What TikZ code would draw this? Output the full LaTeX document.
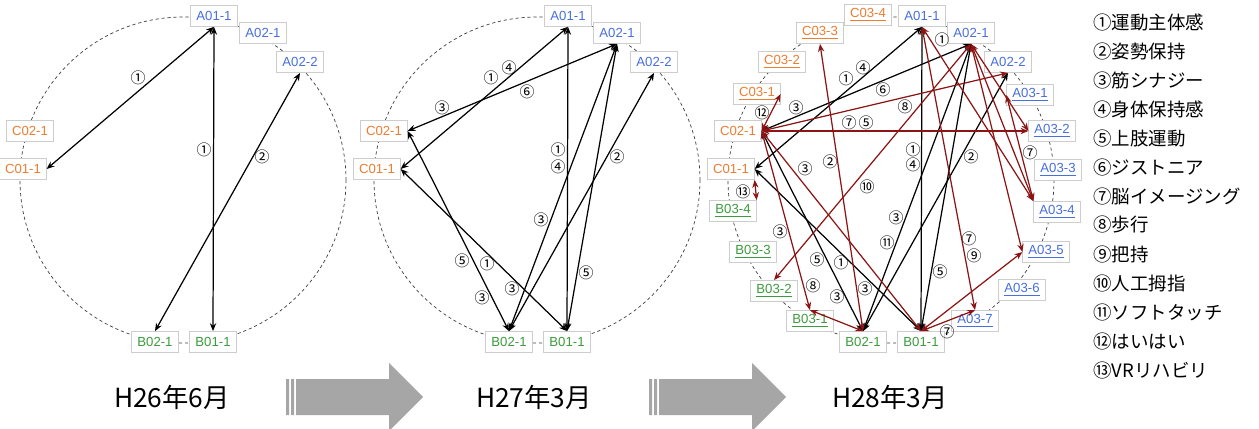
\documentclass[tikz,border=0pt]{standalone}
\usepackage{fontspec}
\setmainfont{Liberation Sans}
\newfontfamily\jpfont{Noto Sans CJK JP}
\usetikzlibrary{arrows.meta}

\definecolor{ablue}{RGB}{72,112,220}
\definecolor{corange}{RGB}{237,125,49}
\definecolor{bgreen}{RGB}{60,155,60}
\definecolor{linkred}{RGB}{140,20,20}
\definecolor{boxgray}{RGB}{205,205,205}
\definecolor{arrowgray}{RGB}{166,166,166}

\tikzset{
  site/.style={draw=boxgray, fill=white, line width=0.4pt, minimum width=26.5pt,
    minimum height=12pt, inner sep=1pt, font=\fontsize{7.5}{8}\selectfont},
  asite/.style={site, text=ablue},
  bsite/.style={site, text=bgreen},
  csite/.style={site, text=corange},
  link/.style={<->, line width=0.7pt},
  newlink/.style={link, draw=linkred},
  numtag/.style={inner sep=0pt, font=\jpfont\fontsize{8.5}{8.5}\selectfont},
  ring/.style={black!75, line width=0.4pt, dash pattern=on 1.8pt off 1.6pt},
  title/.style={font=\jpfont\fontsize{15}{15}\selectfont},
  legend/.style={anchor=west, inner sep=0pt, font=\jpfont\fontsize{10.5}{11}\selectfont},
}

\begin{document}
\begin{tikzpicture}[x=0.02cm,y=-0.02cm,>={Stealth[length=4.5pt,width=3.6pt]}]
\useasboundingbox (0,0) rectangle (1259,429);

%% H26: first stage
\begin{scope}[name prefix=p1-]
\draw[ring] (183,180) circle [radius=163];
\node[asite] (A01) at (214,16) {A01-1};
\node[asite] (A02) at (263,33) {A02-1};
\node[asite] (A022) at (300,62) {A02-2};
\node[csite] (C02) at (30,131) {C02-1};
\node[csite] (C01) at (23,169) {C01-1};
\node[bsite] (B02) at (155,342) {B02-1};
\node[bsite] (B01) at (213,342) {B01-1};

\draw[link] (A01.south) -- (C01.east);
\draw[link] (A01.south) -- (B01.north);
\draw[link] (A022.south) -- (B02.north);

\node[numtag] (n1) at (138,78) {①};
\node[numtag] (n2) at (204,150) {①};
\node[numtag] (n3) at (262,157) {②};
\end{scope}

%% H27: second stage
\begin{scope}[shift={(354,0)}, name prefix=p2-]
\draw[ring] (183,180) circle [radius=163];
\node[asite] (A01) at (214,16) {A01-1};
\node[asite] (A02) at (263,33) {A02-1};
\node[asite] (A022) at (300,62) {A02-2};
\node[csite] (C02) at (30,131) {C02-1};
\node[csite] (C01) at (23,169) {C01-1};
\node[bsite] (B02) at (155,342) {B02-1};
\node[bsite] (B01) at (213,342) {B01-1};

\draw[link] (A01.south) -- (C01.east);
\draw[link] (A02.south) -- (C02.east);
\draw[link] (A01.south) -- (B01.north);
\draw[link] (A022.south) -- (B02.north);
\draw[link] (A02.south) -- (B02.north);
\draw[link] (A02.south) -- (B01.north);
\draw[link] (C02.east) -- (B02.north);
\draw[link] (C01.east) -- (B01.north);

\node[numtag] (n1) at (137,78) {①};
\node[numtag] (n2) at (155,68) {④};
\node[numtag] (n3) at (88,108) {③};
\node[numtag] (n4) at (173,92) {⑥};
\node[numtag] (n5) at (204,150) {①};
\node[numtag] (n6) at (204,167) {④};
\node[numtag] (n7) at (263,157) {②};
\node[numtag] (n8) at (187,220) {③};
\node[numtag] (n9) at (232,273) {⑤};
\node[numtag] (n10) at (108,261) {⑤};
\node[numtag] (n11) at (128,298) {③};
\node[numtag] (n12) at (133,264) {①};
\node[numtag] (n13) at (158,289) {③};
\end{scope}

%% H28: third stage
\begin{scope}[shift={(708,0)}, name prefix=p3-]
\draw[ring] (183,180) circle [radius=163];
\node[asite] (A01) at (214,16) {A01-1};
\node[asite] (A02) at (263,33) {A02-1};
\node[asite] (A022) at (300,62) {A02-2};
\node[asite] (A031) at (322,95) {\underline{A03-1}};
\node[asite] (A032) at (344,131) {\underline{A03-2}};
\node[asite] (A033) at (350,170) {\underline{A03-3}};
\node[asite] (A034) at (349,212) {\underline{A03-4}};
\node[asite] (A035) at (338,252) {\underline{A03-5}};
\node[asite] (A036) at (314,290) {\underline{A03-6}};
\node[asite] (A037) at (267,321) {\underline{A03-7}};
\node[csite] (C034) at (160,15) {\underline{C03-4}};
\node[csite] (C033) at (112,33) {\underline{C03-3}};
\node[csite] (C032) at (74,62) {\underline{C03-2}};
\node[csite] (C031) at (49,94) {\underline{C03-1}};
\node[csite] (C02) at (30,131) {C02-1};
\node[csite] (C01) at (23,169) {C01-1};
\node[bsite] (B034) at (25,211) {\underline{B03-4}};
\node[bsite] (B033) at (45,252) {\underline{B03-3}};
\node[bsite] (B032) at (66,291) {\underline{B03-2}};
\node[bsite] (B031) at (102,321) {\underline{B03-1}};
\node[bsite] (B02) at (155,342) {B02-1};
\node[bsite] (B01) at (213,342) {B01-1};

% links kept from H27
\draw[link] (A01.south) -- (C01.east);
\draw[link] (A02.south) -- (C02.east);
\draw[link] (A01.south) -- (B01.north);
\draw[link] (A022.south) -- (B02.north);
\draw[link] (A02.south) -- (B02.north);
\draw[link] (A02.south) -- (B01.north);
\draw[link] (C02.east) -- (B02.north);
\draw[link] (C01.east) -- (B01.north);
% new links
\draw[newlink] (C02.east) -- (A032.west);
\draw[newlink] (C02.east) -- (A022.south);
\draw[newlink] (C02.east) -- (C031.east);
\draw[newlink] (C01.south east) -- (B034.north east);
\draw[newlink] (C033.south) -- (B02.north);
\draw[newlink] (A02.south) -- (B032.north);
\draw[newlink] (A01.south) -- (A037.north);
\draw[newlink] (B01.north) -- (A037.north);
\draw[newlink] (B01.north) -- (A035.west);
\draw[newlink] (B02.north) -- (B031.north);
\draw[newlink] (C02.east) -- (B031.north);
\draw[newlink] (C02.east) -- (B01.north);
\draw[newlink] (A01.south) -- (A034.north west);
\draw[newlink] (A02.south) -- (A034.north west);
\draw[newlink] (A02.south) -- (A035.west);
\draw[newlink] (A02.south) -- (A032.west);
\draw[newlink] (A031.west) -- (A034.north west);

\node[numtag] (n1) at (138,79) {①};
\node[numtag] (n2) at (155,68) {④};
\node[numtag] (n3) at (88,108) {③};
\node[numtag] (n4) at (175,90) {⑥};
\node[numtag] (n5) at (205,150) {①};
\node[numtag] (n6) at (205,165) {④};
\node[numtag] (n7) at (263,157) {②};
\node[numtag] (n8) at (188,218) {③};
\node[numtag] (n9) at (179,243) {⑪};
\node[numtag] (n10) at (232,272) {⑤};
\node[numtag] (n11) at (109,260) {⑤};
\node[numtag] (n12) at (129,297) {③};
\node[numtag] (n13) at (133,263) {①};
\node[numtag] (n14) at (157,289) {③};
\node[numtag] (n15) at (141,123) {⑦};
\node[numtag] (n16) at (158,123) {⑤};
\node[numtag] (n17) at (197,107) {⑧};
\node[numtag] (n18) at (54,113) {⑫};
\node[numtag] (n19) at (35,192) {⑬};
\node[numtag] (n20) at (122,162) {②};
\node[numtag] (n21) at (159,187) {⑩};
\node[numtag] (n22) at (261,239) {⑦};
\node[numtag] (n23) at (266,256) {⑨};
\node[numtag] (n24) at (239,332) {⑦};
\node[numtag] (n25) at (72,232) {③};
\node[numtag] (n26) at (105,286) {⑧};
\node[numtag] (n27) at (97,169) {③};
\node[numtag] (n28) at (234,40) {①};
\node[numtag] (n29) at (322,153) {⑦};
\end{scope}

%% progress arrows between the stages
\fill[arrowgray] (286,379) rectangle (289,415) (291,379) rectangle (294,415)
  (296,379) -- (389,379) -- (389,363) -- (423,397) -- (389,431) -- (389,415) -- (296,415) -- cycle;
\fill[arrowgray] (649,379) rectangle (652,415) (654,379) rectangle (657,415)
  (659,379) -- (752,379) -- (752,363) -- (786,397) -- (752,431) -- (752,415) -- (659,415) -- cycle;

\node[title] (t1) at (172,397) {H26年6月};
\node[title] (t2) at (534,397) {H27年3月};
\node[title] (t3) at (890,397) {H28年3月};

%% key to the circled numbers
\node[legend] (k1) at (1093,22) {①運動主体感};
\node[legend] (k2) at (1093,51) {②姿勢保持};
\node[legend] (k3) at (1093,80) {③筋シナジー};
\node[legend] (k4) at (1093,109) {④身体保持感};
\node[legend] (k5) at (1093,138) {⑤上肢運動};
\node[legend] (k6) at (1093,167) {⑥ジストニア};
\node[legend] (k7) at (1093,196) {⑦脳イメージング};
\node[legend] (k8) at (1093,225) {⑧歩行};
\node[legend] (k9) at (1093,254) {⑨把持};
\node[legend] (k10) at (1093,283) {⑩人工拇指};
\node[legend] (k11) at (1093,312) {⑪ソフトタッチ};
\node[legend] (k12) at (1093,341) {⑫はいはい};
\node[legend] (k13) at (1093,370) {⑬VRリハビリ};
\end{tikzpicture}
\end{document}
